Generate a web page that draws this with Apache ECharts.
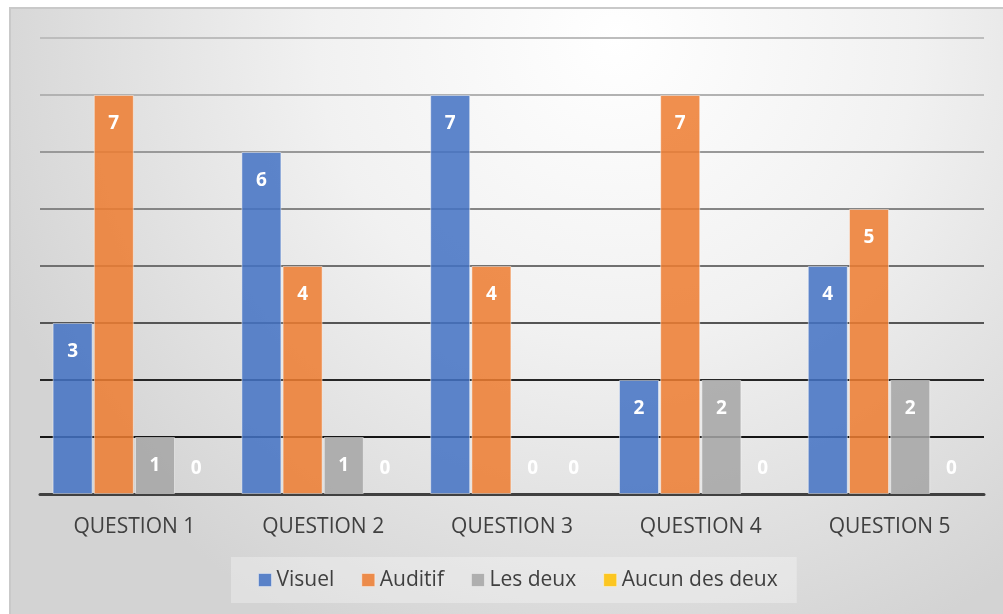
<!DOCTYPE html>
<html>
<head>
<meta charset="utf-8">
<script src="https://cdn.jsdelivr.net/npm/echarts@6/dist/echarts.min.js"></script>
<style>
  html, body { margin: 0; padding: 0; background: #ffffff; }
  #chart { width: 1003px; height: 614px; }
</style>
</head>
<body>
<div id="chart"></div>
<script>
// données du graphique
var categories = ['QUESTION 1', 'QUESTION 2', 'QUESTION 3', 'QUESTION 4', 'QUESTION 5'];
var seriesNames = ['Visuel', 'Auditif', 'Les deux', 'Aucun des deux'];
var visuel = [3, 6, 7, 2, 4];
var auditif = [7, 4, 4, 7, 5];
var lesDeux = [1, 1, 0, 2, 2];
var aucunDesDeux = [0, 0, 0, 0, 0];

var colors = ['rgba(68,114,196,0.86)', 'rgba(237,125,49,0.86)', 'rgba(165,165,165,0.86)', 'rgba(255,192,0,0.86)'];
var legendColors = ['#4e7bc9', '#ee8a45', '#aaaaaa', '#ffc61a'];
var font = '"Open Sans", "Noto Sans", sans-serif';

var myChart = echarts.init(document.getElementById('chart'));

// étiquette: en haut dans la barre, ou au-dessus de l'axe pour les zéros
function makeData(values) {
  return values.map(function (v) {
    if (v === 0) {
      return {
        value: v,
        itemStyle: { borderWidth: 0 },
        label: { position: 'insideBottom', distance: 16 }
      };
    }
    return v;
  });
}

var allValues = [visuel, auditif, lesDeux, aucunDesDeux];
var series = allValues.map(function (vals, i) {
  return {
    name: seriesNames[i],
    type: 'bar',
    barWidth: 40,
    barGap: '3%',
    itemStyle: {
      color: colors[i],
      borderColor: 'rgba(255,255,255,0.45)',
      borderWidth: 1
    },
    label: {
      show: true,
      position: 'insideTop',
      distance: 19,
      color: '#ffffff',
      fontWeight: 'bold',
      fontSize: 19,
      fontFamily: font
    },
    data: makeData(vals)
  };
});

const option = {
  animation: false,
  color: legendColors,
  graphic: [
    {
      type: 'rect',
      z: -10,
      silent: true,
      shape: { x: 10, y: 8, width: 1010, height: 630 },
      style: {
        fill: {
          type: 'radial', x: 0.6, y: 0.05, r: 1.05,
          colorStops: [
            { offset: 0, color: '#ffffff' },
            { offset: 0.45, color: '#f1f1f1' },
            { offset: 1, color: '#d3d3d3' }
          ]
        },
        stroke: '#c9c9c9',
        lineWidth: 2
      }
    }
  ],
  legend: {
    left: 231,
    top: 557,
    padding: [12, 19, 12, 27],
    backgroundColor: 'rgba(255,255,255,0.3)',
    itemWidth: 13,
    itemHeight: 13,
    itemGap: 27,
    icon: 'rect',
    itemStyle: { borderColor: 'rgba(255,255,255,0.4)', borderWidth: 1 },
    textStyle: { fontSize: 21, color: '#404040', fontFamily: font, lineHeight: 22 },
    data: seriesNames
  },
  grid: {
    left: 40,
    right: 19,
    top: 38,
    bottom: 120
  },
  xAxis: {
    type: 'category',
    data: categories,
    axisLine: { lineStyle: { color: '#404040', width: 3 } },
    axisTick: { show: false },
    axisLabel: { color: '#404040', fontSize: 21, fontFamily: font, margin: 23 }
  },
  yAxis: {
    type: 'value',
    min: 0,
    max: 8,
    interval: 1,
    axisLabel: { show: false },
    axisLine: { show: false },
    axisTick: { show: false },
    splitLine: {
      lineStyle: {
        width: 2,
        color: ['#404040', '#151515', '#262626', '#555555', '#707070', '#858585', '#999999', '#b2b2b2', '#bdbdbd']
      }
    }
  },
  series: series
};
myChart.setOption(option);
</script>
</body>
</html>
